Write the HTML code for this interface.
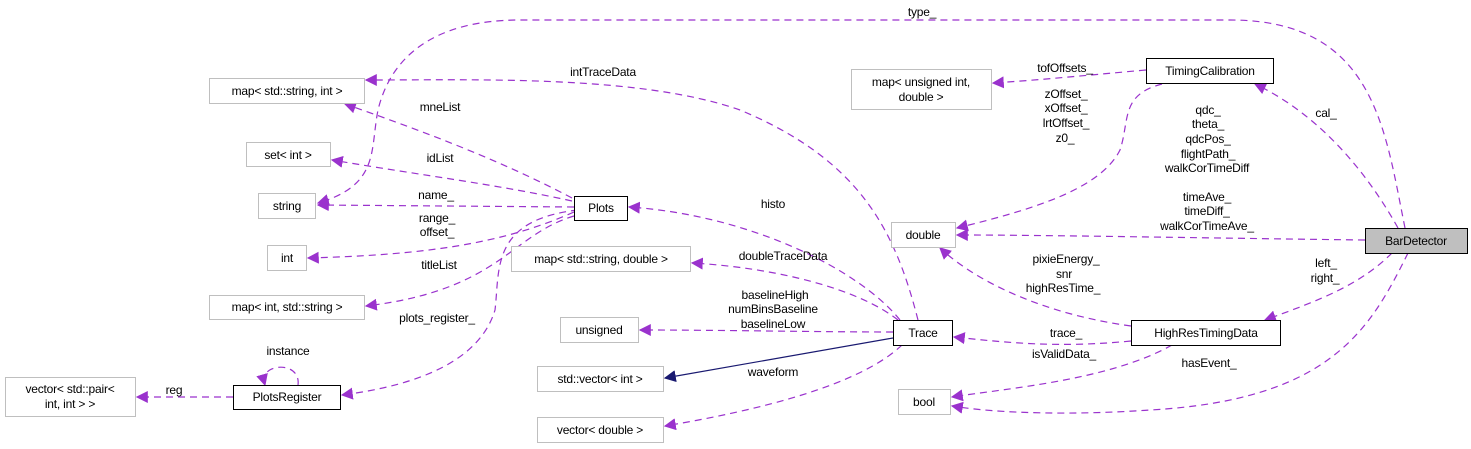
<!DOCTYPE html>
<html><head><meta charset="utf-8"><style>
html,body{margin:0;padding:0;background:#fff;}
svg{display:block;font-family:"Liberation Sans",sans-serif;font-size:12px;letter-spacing:-0.2px;}
</style></head><body>
<svg width="1471" height="449" viewBox="0 0 1471 449" xmlns="http://www.w3.org/2000/svg">
<defs>
<marker id="p" viewBox="0 0 10 10" refX="9" refY="5" markerWidth="12" markerHeight="12" markerUnits="userSpaceOnUse" orient="auto"><path d="M0,0 L10,5 L0,10 z" fill="#9a32cd"/></marker>
<marker id="n" viewBox="0 0 10 10" refX="9" refY="5" markerWidth="12" markerHeight="12" markerUnits="userSpaceOnUse" orient="auto"><path d="M0,0 L10,5 L0,10 z" fill="#191970"/></marker>
</defs>
<g fill="none" stroke="#9a32cd" stroke-width="1.2" stroke-dasharray="7,5" marker-end="url(#p)">
<path d="M1405,228 C1385,130 1375,20 1230,20 L520,20 C430,20 390,60 378,110 C370,150 380,185 318,203"/>
<path d="M918,320 C895,230 860,160 740,110 C640,75 480,80 366,80"/>
<path d="M572,198 C500,160 420,130 345,104"/>
<path d="M572,201 C500,185 420,175 332,160"/>
<path d="M574,207 L318,205"/>
<path d="M574,212 C500,245 420,255 308,258"/>
<path d="M574,216 C510,235 500,290 366,306"/>
<path d="M578,210 C490,220 500,270 495,310 C480,360 420,385 342,395"/>
<path d="M298,385 C300,370 285,365 275,368 C265,370 263,378 265,385"/>
<path d="M233,397 L137,397"/>
<path d="M900,320 C860,270 750,215 629,207"/>
<path d="M898,320 C860,290 780,268 692,263"/>
<path d="M893,332 C820,332 720,330 640,330"/>
<path d="M902,345 C860,385 760,410 665,426"/>
<path d="M1146,70 C1090,75 1040,80 993,83"/>
<path d="M1162,84 C1120,95 1130,120 1120,150 C1100,190 1030,210 957,228"/>
<path d="M1398,228 C1360,160 1310,110 1255,84"/>
<path d="M1365,240 C1200,238 1050,235 957,235"/>
<path d="M1131,326 C1050,315 980,285 940,248"/>
<path d="M1392,253 C1360,285 1320,300 1265,320"/>
<path d="M1131,341 C1060,348 1010,343 954,337"/>
<path d="M1172,345 C1110,380 1010,388 952,397"/>
<path d="M1408,253 C1370,330 1330,400 1150,410 C1080,415 1000,414 952,406"/>
</g>
<path d="M893,338 L665,378" stroke="#191970" stroke-width="1.2" fill="none" marker-end="url(#n)"/>
<g stroke="#bfbfbf" fill="#fff">
<rect x="209.5" y="78.5" width="155" height="25"/>
<rect x="246.5" y="142.5" width="84" height="24"/>
<rect x="258.5" y="193.5" width="57" height="25"/>
<rect x="267.5" y="245.5" width="39" height="25"/>
<rect x="209.5" y="295.5" width="155" height="24"/>
<rect x="5.5" y="377.5" width="130" height="39"/>
<rect x="511.5" y="246.5" width="179" height="25"/>
<rect x="560.5" y="317.5" width="78" height="25"/>
<rect x="537.5" y="366.5" width="126" height="25"/>
<rect x="537.5" y="417.5" width="126" height="25"/>
<rect x="891.5" y="222.5" width="64" height="25"/>
<rect x="898.5" y="389.5" width="52" height="25"/>
<rect x="851.5" y="69.5" width="140" height="40"/>
</g>
<g stroke="#000" fill="#fff">
<rect x="233.5" y="385.5" width="107" height="24"/>
<rect x="574.5" y="196.5" width="53" height="24"/>
<rect x="893.5" y="320.5" width="59" height="25"/>
<rect x="1146.5" y="58.5" width="127" height="25"/>
<rect x="1131.5" y="320.5" width="149" height="25"/>
<rect x="1365.5" y="228.5" width="102" height="25" fill="#bfbfbf"/>
</g>
<g fill="#000" text-anchor="middle">
<text x="287" y="95">map&lt; std::string, int &gt;</text>
<text x="288" y="159">set&lt; int &gt;</text>
<text x="287" y="210">string</text>
<text x="287" y="262">int</text>
<text x="287" y="311">map&lt; int, std::string &gt;</text>
<text x="70" y="393">vector&lt; std::pair&lt;</text>
<text x="70" y="408">int, int &gt; &gt;</text>
<text x="287" y="401">PlotsRegister</text>
<text x="601" y="212">Plots</text>
<text x="601" y="263">map&lt; std::string, double &gt;</text>
<text x="599" y="334">unsigned</text>
<text x="600" y="383">std::vector&lt; int &gt;</text>
<text x="600" y="434">vector&lt; double &gt;</text>
<text x="923" y="337">Trace</text>
<text x="923" y="239">double</text>
<text x="924" y="406">bool</text>
<text x="921" y="86">map&lt; unsigned int,</text>
<text x="921" y="101">double &gt;</text>
<text x="1210" y="75">TimingCalibration</text>
<text x="1206" y="337">HighResTimingData</text>
<text x="1416" y="245">BarDetector</text>
<text x="922" y="16">type_</text>
<text x="603" y="76">intTraceData</text>
<text x="440" y="111">mneList</text>
<text x="440" y="162">idList</text>
<text x="436" y="199">name_</text>
<text x="437" y="222">range_</text>
<text x="437" y="236">offset_</text>
<text x="439" y="269">titleList</text>
<text x="437" y="322">plots_register_</text>
<text x="288" y="355">instance</text>
<text x="174" y="394">reg</text>
<text x="773" y="208">histo</text>
<text x="783" y="260">doubleTraceData</text>
<text x="775" y="299">baselineHigh</text>
<text x="773" y="313">numBinsBaseline</text>
<text x="773" y="328">baselineLow</text>
<text x="773" y="376">waveform</text>
<text x="1065" y="72">tofOffsets_</text>
<text x="1066" y="98">zOffset_</text>
<text x="1066" y="112">xOffset_</text>
<text x="1066" y="127">lrtOffset_</text>
<text x="1065" y="142">z0_</text>
<text x="1326" y="117">cal_</text>
<text x="1208" y="114">qdc_</text>
<text x="1208" y="128">theta_</text>
<text x="1208" y="143">qdcPos_</text>
<text x="1208" y="158">flightPath_</text>
<text x="1207" y="172">walkCorTimeDiff</text>
<text x="1207" y="201">timeAve_</text>
<text x="1207" y="215">timeDiff_</text>
<text x="1207" y="230">walkCorTimeAve_</text>
<text x="1066" y="263">pixieEnergy_</text>
<text x="1064" y="278">snr</text>
<text x="1063" y="292">highResTime_</text>
<text x="1326" y="267">left_</text>
<text x="1325" y="282">right_</text>
<text x="1066" y="337">trace_</text>
<text x="1064" y="358">isValidData_</text>
<text x="1209" y="367">hasEvent_</text>
</g>
</svg>
</body></html>
